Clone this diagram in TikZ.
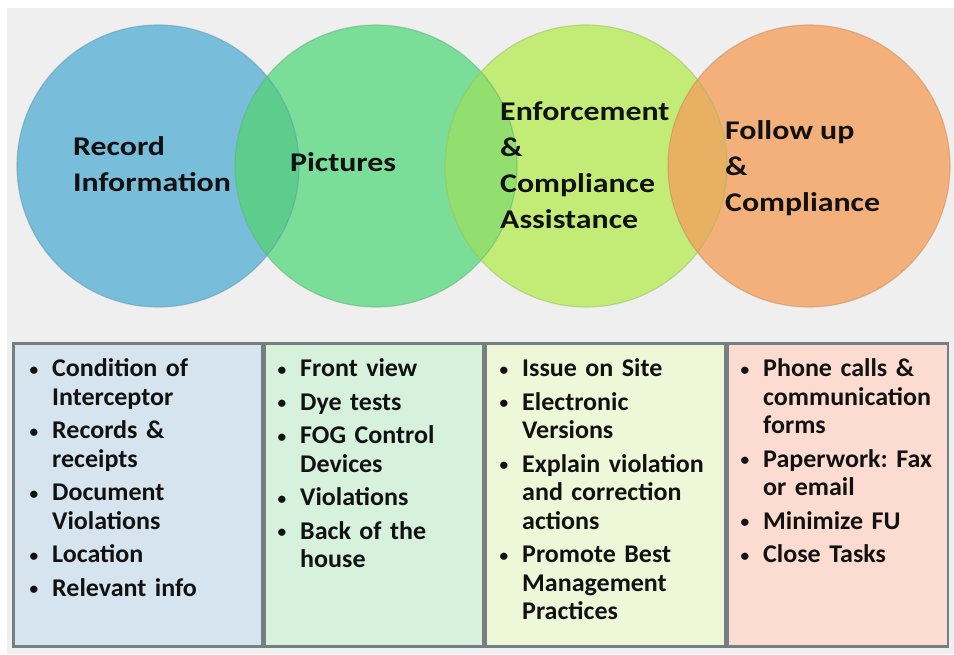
\documentclass[tikz,border=0pt]{standalone}
\usepackage{fontspec}
\setmainfont{Carlito}
\newfontfamily\headfont[FakeStretch=1.18]{Carlito}
\newfontfamily\listfont[FakeStretch=1.02]{Carlito}
\usetikzlibrary{positioning}
\definecolor{canvas}{HTML}{EFEFEF}
\definecolor{record}{HTML}{78BEDA}
\definecolor{pictures}{HTML}{7ADD98}
\definecolor{enforce}{HTML}{C2EC76}
\definecolor{follow}{HTML}{F4B07A}
\definecolor{lensA}{HTML}{5CCD8C}
\definecolor{lensB}{HTML}{92DE6E}
\definecolor{lensC}{HTML}{E8B062}
\definecolor{recordbox}{HTML}{D5E4EE}
\definecolor{picturesbox}{HTML}{D6F2DC}
\definecolor{enforcebox}{HTML}{EEF8D9}
\definecolor{followbox}{HTML}{FCDCD0}
\definecolor{panelline}{HTML}{73807F}
\definecolor{ink}{HTML}{111111}

\newcommand{\pointdot}{\raisebox{1.5pt}{\fontsize{17}{17}\selectfont\textbullet}}
\newenvironment{pointlist}{\begin{list}{\pointdot}{%
    \setlength\labelwidth{13pt}\setlength\labelsep{14pt}%
    \setlength\leftmargin{27pt}\setlength\itemsep{5pt}%
    \setlength\parsep{0pt}\setlength\topsep{0pt}\setlength\partopsep{0pt}}%
    \frenchspacing}%
  {\end{list}}

\begin{document}
\begin{tikzpicture}[
    x=1pt, y=-1pt,
    ring/.style={
        circle,
        minimum size=282pt,
        inner sep=0pt
    },
    title/.style={
        font=\headfont\bfseries\fontsize{27}{36}\selectfont,
        text=ink,
        align=left,
        inner sep=0pt,
        anchor=north west
    },
    panel/.style={
        draw=panelline,
        line width=2.5pt,
        minimum height=303pt,
        inner sep=0pt
    },
    itemtext/.style={
        font=\listfont\bfseries\fontsize{25.5}{28.5}\selectfont,
        text=ink,
        align=left,
        inner sep=0pt,
        anchor=north west
    }
]

\useasboundingbox (0,0) rectangle (954,654);
\fill[white] (0,0) rectangle (954,654);
\fill[canvas] (7,8) rectangle (954,654);

% circles
\node[ring, fill=record] (C1) at (158,166) {};
\node[ring, fill=pictures] (C2) at (376,166) {};
\begin{scope}
    \clip (C1.center) circle[radius=141pt];
    \fill[lensA] (C2.center) circle[radius=141pt];
\end{scope}
\node[ring, fill=enforce] (C3) at (586,166) {};
\begin{scope}
    \clip (C2.center) circle[radius=141pt];
    \fill[lensB] (C3.center) circle[radius=141pt];
\end{scope}
\node[ring, fill=follow] (C4) at (809,166) {};
\begin{scope}
    \clip (C3.center) circle[radius=141pt];
    \fill[lensC] (C4.center) circle[radius=141pt];
\end{scope}

\foreach \c/\col in {C1/record, C2/pictures, C3/enforce, C4/follow}
    \draw[\col!80!black, line width=1.2pt, opacity=0.5] (\c.center) circle[radius=141pt];

\node[title] (L1) at (73,136) {Record\\Information};
\node[title] (L2) at (290,152) {Pictures};
\node[title] (L3) at (500,102) {Enforcement\\\&\\Compliance\\Assistance};
\node[title] (L4) at (725,120) {Follow up\\\&\\Compliance};

% panels
\node[panel, fill=recordbox, minimum width=248.75pt, anchor=north west] (P1) at (12,342) {};
\node[panel, fill=picturesbox, minimum width=218.5pt, right=0pt of P1] (P2) {};
\node[panel, fill=enforcebox, minimum width=239.5pt, right=0pt of P2] (P3) {};
\node[panel, fill=followbox, minimum width=220.5pt, right=0pt of P3] (P4) {};

\node[itemtext, text width=221pt] (T1) at ([xshift=13pt, yshift=-6pt]P1.north west) {%
\begin{pointlist}
\item Condition of\\Interceptor
\item Records \&\\receipts
\item Document\\Violations
\item Location
\item Relevant info
\end{pointlist}};
\node[itemtext, text width=195pt] (T2) at ([xshift=9.75pt, yshift=-6pt]P2.north west) {%
\begin{pointlist}
\item Front view
\item Dye tests
\item FOG Control\\Devices
\item Violations
\item Back of the\\house
\end{pointlist}};
\node[itemtext, text width=218pt] (T3) at ([xshift=10.75pt, yshift=-6pt]P3.north west) {%
\begin{pointlist}
\item Issue on Site
\item Electronic\\Versions
\item Explain violation\\and correction\\actions
\item Promote Best\\Management\\Practices
\end{pointlist}};
\node[itemtext, text width=205pt] (T4) at ([xshift=9.75pt, yshift=-6pt]P4.north west) {%
\begin{pointlist}
\item Phone calls \&\\communication\\forms
\item Paperwork: Fax\\or email
\item Minimize FU
\item Close Tasks
\end{pointlist}};

\end{tikzpicture}
\end{document}
